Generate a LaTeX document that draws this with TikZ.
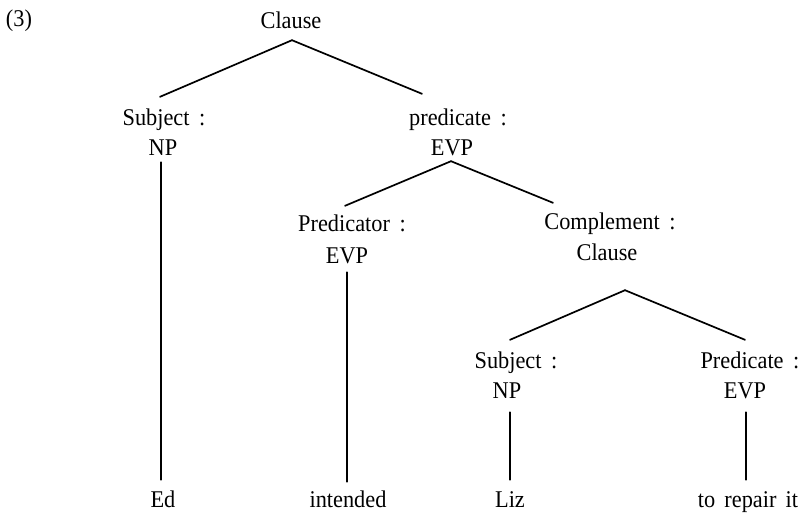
\documentclass[tikz,border=0pt]{standalone}
\usepackage{fontspec}
\setmainfont{Liberation Serif}[FakeStretch=0.93]
% role label followed by a spaced colon
\newcommand{\rolecolon}[1]{#1\hspace{0.4em}:}
\begin{document}
\begin{tikzpicture}[x=1pt,y=-1pt,
  lab/.style={inner sep=0pt, text height=16pt, text depth=0pt, anchor=base,
              font=\fontsize{24}{30}\selectfont},
  branch/.style={line width=1.7pt, line cap=round}]
\useasboundingbox (0,0) rectangle (809,512);

% example number
\node[lab] (num) at (19,26) {(3)};

% top clause
\node[lab] (root) at (291,28) {Clause};

% first level
\node[lab] (subjR) at (164,125) {\rolecolon{Subject}};
\node[lab] (subjC) at (163,155) {NP};
\node[lab] (predR) at (458,125) {\rolecolon{predicate}};
\node[lab] (predC) at (452,155) {EVP};

% second level
\node[lab] (pdtrR) at (352,231) {\rolecolon{Predicator}};
\node[lab] (pdtrC) at (347,263) {EVP};
\node[lab] (compR) at (610,229) {\rolecolon{Complement}};
\node[lab] (compC) at (607,260) {Clause};

% embedded clause
\node[lab] (subjBR) at (516,368) {\rolecolon{Subject}};
\node[lab] (subjBC) at (507,398) {NP};
\node[lab] (predBR) at (750,368) {\rolecolon{Predicate}};
\node[lab] (predBC) at (745,398) {EVP};

% words
\node[lab] (ed)   at (163,507) {Ed};
\node[lab] (intd) at (348,507) {intended};
\node[lab] (liz)  at (510,507) {Liz};
\node[lab] (torep) at (748,507) {to\hspace{0.38em}repair\hspace{0.38em}it};

% branches
\draw[branch] ([shift={(1pt,-12pt)}]root.south) -- ([shift={(-4pt,12pt)}]subjR.north);
\draw[branch] ([shift={(1pt,-12pt)}]root.south) -- ([shift={(-36pt,15pt)}]predR.north);

\draw[branch] ([shift={(-1pt,-6pt)}]predC.south) -- ([shift={(-7pt,9pt)}]pdtrR.north);
\draw[branch] ([shift={(-1pt,-6pt)}]predC.south) -- ([shift={(-57pt,10pt)}]compR.north);

\draw[branch] ([shift={(18pt,-30pt)}]compC.south) -- ([shift={(-6pt,12pt)}]subjBR.north);
\draw[branch] ([shift={(18pt,-30pt)}]compC.south) -- ([shift={(-5pt,12pt)}]predBR.north);

\draw[branch] ([shift={(-2pt,-7pt)}]subjC.south) -- ([shift={(-2pt,11pt)}]ed.north);
\draw[branch] ([shift={(0pt,-9pt)}]pdtrC.south) -- ([shift={(-1pt,9pt)}]intd.north);
\draw[branch] ([shift={(3pt,-14pt)}]subjBC.south) -- ([shift={(0pt,11pt)}]liz.north);
\draw[branch] ([shift={(1pt,-14pt)}]predBC.south) -- ([shift={(-2pt,11pt)}]torep.north);
\end{tikzpicture}
\end{document}
